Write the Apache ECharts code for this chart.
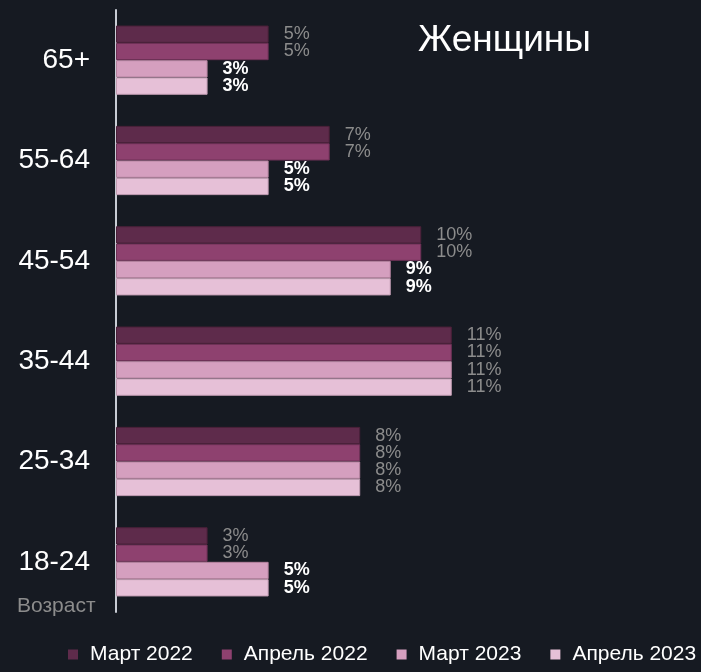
<!DOCTYPE html>
<html><head><meta charset="utf-8">
<script src="https://cdn.jsdelivr.net/npm/echarts@6/dist/echarts.min.js"></script>
<style>html,body{margin:0;padding:0;background:#161a22;}#c{width:701px;height:672px;}</style>
</head><body><div id="c"></div>
<script>
const categories = ['18-24', '25-34', '35-44', '45-54', '55-64', '65+'];
const seriesNames = ['Март 2022', 'Апрель 2022', 'Март 2023', 'Апрель 2023'];
const mar2022 = [3, 8, 11, 10, 7, 5];
const apr2022 = [3, 8, 11, 10, 7, 5];
const mar2023 = [5, 8, 11, 9, 5, 3];
const apr2023 = [5, 8, 11, 9, 5, 3];
const colors = ['#5e2b4b', '#8e416f', '#d59fbf', '#e6c0d7'];
const borders = ['#4a2039', '#6e3156', '#b5839f', '#c29db3'];

const allValues = [mar2022, apr2022, mar2023, apr2023];
const FONT = 'Liberation Sans, Arial, sans-serif';

function makeSeries(i) {
  const vals = allValues[i];
  return {
    name: seriesNames[i],
    type: 'bar',
    barGap: '0%',
    barCategoryGap: '31%',
    itemStyle: { color: colors[i], borderColor: borders[i], borderWidth: 1 },
    data: vals.map((v, k) => {
      const changed = i >= 2 && v !== allValues[i - 2][k];
      return {
        value: v,
        label: changed
          ? { color: '#ffffff', fontWeight: 'bold' }
          : { color: '#8c8c8c', fontWeight: 'normal' }
      };
    }),
    label: {
      show: true, position: 'right', distance: 15,
      fontFamily: FONT, fontSize: 18,
      formatter: p => p.value + '%'
    }
  };
}

const chart = echarts.init(document.getElementById('c'));
chart.setOption({
  backgroundColor: '#161a22',
  animation: false,
  title: {
    text: 'Женщины', left: 413, top: 17,
    textStyle: { color: '#ffffff', fontFamily: FONT, fontSize: 37, fontWeight: 'normal' }
  },
  legend: {
    data: seriesNames, top: 644, left: 68, width: 640, padding: 0,
    itemWidth: 10, itemHeight: 10, itemGap: 29,
    icon: 'rect',
    itemStyle: { borderWidth: 0 },
    textStyle: { color: '#ffffff', fontFamily: FONT, fontSize: 21, padding: [0, 0, 0, 7] }
  },
  grid: { left: 116, right: 5, top: 10, bottom: 60, containLabel: false },
  xAxis: { type: 'value', min: 0, max: 19, show: false },
  yAxis: {
    type: 'category', data: categories,
    axisLine: { show: true, lineStyle: { color: '#c8ccd4', width: 2 } },
    axisTick: { show: false },
    axisLabel: { color: '#ffffff', fontFamily: FONT, fontSize: 28, margin: 26 }
  },
  graphic: [{
    type: 'text', left: 17, top: 596,
    style: { text: 'Возраст', fill: '#8c8c8c', font: '21px ' + FONT }
  }],
  series: [0, 1, 2, 3].map(makeSeries)
});
</script></body></html>
